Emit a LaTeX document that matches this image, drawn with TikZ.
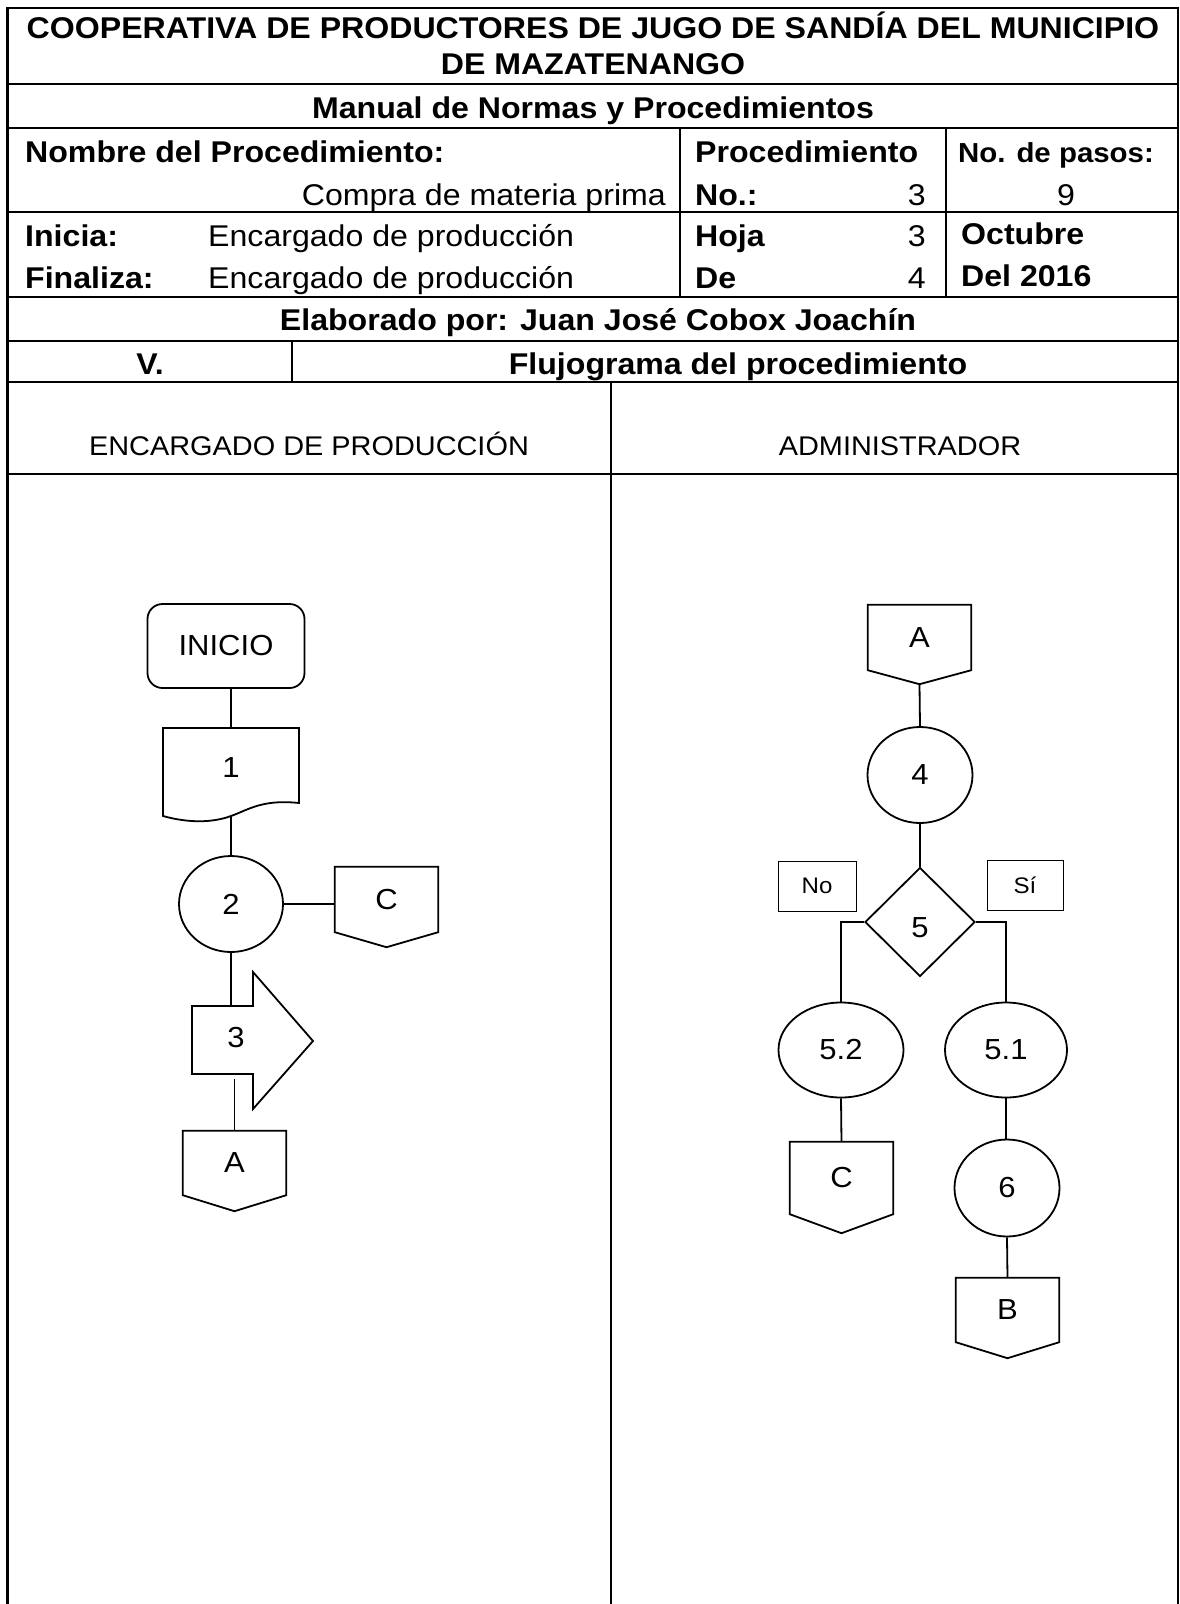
\documentclass[tikz,border=0pt]{standalone}
\usepackage{fontspec}
\setmainfont[FakeStretch=1.07]{Liberation Sans}
\usetikzlibrary{shapes.geometric,calc}
\tikzset{
  tline/.style={line width=2.4pt},
  fshape/.style={line width=1.8pt},
  conn/.style={line width=1.8pt},
  hb/.style={font=\fontsize{30}{36}\selectfont\bfseries, inner sep=0pt},
  hbs/.style={font=\fontsize{27.5}{33}\selectfont\bfseries, inner sep=0pt},
  hr/.style={font=\fontsize{30}{36}\selectfont, inner sep=0pt},
  lanetxt/.style={font=\fontsize{27}{32}\selectfont, inner sep=0pt},
  fc/.style={font=\fontsize{29}{34}\selectfont},
  lbl/.style={draw, line width=1pt, minimum width=78pt, minimum height=50pt, font=\fontsize{22.5}{27}\selectfont, inner sep=0pt},
}
\newcommand\offpg[6]{% name, cx, top, height, tip depth, label
  \node[fc, minimum width=103pt, minimum height=#4pt, inner sep=0pt] (#1) at (#2,#3+#4/2) {#6};
  \draw[fshape] (#1.north west) -- (#1.north east) -- (#1.south east) -- ($(#1.south)+(0,#5)$) coordinate (#1-tip) -- (#1.south west) -- cycle;
}
\begin{document}
\begin{tikzpicture}[x=1pt,y=-1pt]
\useasboundingbox (0,0) rectangle (1180,1604);
% ---------- table ----------
\draw[tline] (7.5,1604) -- (7.5,8) -- (1178,8) -- (1178,1604);
\foreach \yy in {84,128,212,297,341,382,474}
  \draw[tline] (7.5,\yy) -- (1178,\yy);
\draw[tline] (680,128) -- (680,297);
\draw[tline] (946,128) -- (946,297);
\draw[tline] (292,341) -- (292,382);
\draw[line width=1.8pt] (611,382) -- (611,1604);
% ---------- table texts ----------
\node[hb, anchor=base] (t1) at (593,38) {COOPERATIVA DE PRODUCTORES DE JUGO DE SANDÍA DEL MUNICIPIO};
\node[hb, anchor=base] (t2) at (593,74) {DE MAZATENANGO};
\node[hb, anchor=base] (t3) at (593,118) {Manual de Normas y Procedimientos};
\node[hb, anchor=base west] (t4) at (25,162) {Nombre del Procedimiento:};
\node[hr, anchor=base east] (t5) at (666,205) {Compra de materia prima};
\node[hb, anchor=base west] (t6) at (695,162) {Procedimiento};
\node[hb, anchor=base west] (t7) at (695,205) {No.:};
\node[hr, anchor=base east] (t8) at (926,205) {3};
\node[hbs, anchor=base west] (t9) at (958,162) {No. de pasos:};
\node[hr, anchor=base] (t10) at (1066,205) {9};
\node[hb, anchor=base west] (t11) at (25,246) {Inicia:};
\node[hr, anchor=base west] (t12) at (208,246) {Encargado de producción};
\node[hb, anchor=base west] (t13) at (25,288) {Finaliza:};
\node[hr, anchor=base west] (t14) at (208,288) {Encargado de producción};
\node[hb, anchor=base west] (t15) at (695,246) {Hoja};
\node[hr, anchor=base east] (t16) at (926,246) {3};
\node[hb, anchor=base west] (t17) at (695,288) {De};
\node[hr, anchor=base east] (t18) at (926,288) {4};
\node[hb, anchor=base west] (t19) at (961,244) {Octubre};
\node[hb, anchor=base west] (t20) at (961,286) {Del 2016};
\node[hb, anchor=base] (t21) at (598,330) {Elaborado por: Juan José Cobox Joachín};
\node[hb, anchor=base] (t22) at (150,374) {V.};
\node[hb, anchor=base] (t23) at (738,374) {Flujograma del procedimiento};
\node[lanetxt, anchor=base] (l1) at (309,455) {ENCARGADO DE PRODUCCIÓN};
\node[lanetxt, anchor=base] (l2) at (900,455) {ADMINISTRADOR};
% ---------- left lane ----------
\node[fc, draw, fshape, rounded corners=15pt, minimum width=157pt, minimum height=84pt] (ini) at (226,646) {INICIO};
\node[fc, minimum width=136pt, minimum height=80pt, inner sep=0pt] (d1) at (231,768) {1};
\draw[fshape] (163,728) -- (299,728) -- (299,803) .. controls (262,799) and (248,810) .. (231,816) .. controls (212,823) and (188,823) .. (163,816) -- cycle;
\coordinate (d1b) at (231,816);
\draw[conn] (ini.south -| d1.north) -- (231,728);
\node[fc, draw, fshape, ellipse, minimum width=104pt, minimum height=96pt, inner sep=0pt] (p2) at (231,904) {2};
\draw[conn] (d1b) -- (p2.north);
\offpg{c1}{386.5}{867}{65}{15}{C}
\draw[conn] (p2.east) -- (p2.east -| c1.west);
\node[fc, inner sep=0pt] (s3) at (236,1038) {3};
\draw[fshape] (192,1006) -- (253,1006) -- (253,972) -- (313,1041) -- (253,1109) -- (253,1074) -- (192,1074) -- cycle;
\coordinate (s3t) at (233,1006);
\coordinate (s3b) at (233,1079);
\draw[conn] (p2.south) -- (p2.south |- s3t);
\offpg{a1}{234.5}{1131}{64}{16}{A}
\draw[conn] (a1.north |- s3b) -- (a1.north);
% ---------- right lane ----------
\offpg{a2}{919.5}{605}{65}{14}{A}
\node[fc, draw, fshape, ellipse, minimum width=105pt, minimum height=96pt, inner sep=0pt] (p4) at (920,775) {4};
\draw[conn] (a2-tip) -- (p4.north);
\node[fc, draw, fshape, diamond, minimum width=110pt, minimum height=109pt, inner sep=0pt, text height=31pt, text depth=0pt] (d5) at (920,922) {5};
\draw[conn] (p4.south) -- (d5.north);
\node[lbl] (no) at (817,886) {No};
\node[lbl, minimum width=76pt] (si) at (1025,885) {Sí};
\node[fc, draw, fshape, ellipse, minimum width=125pt, minimum height=95pt, inner sep=0pt] (e52) at (841,1050) {5.2};
\node[fc, draw, fshape, ellipse, minimum width=122pt, minimum height=95pt, inner sep=0pt] (e51) at (1006,1050) {5.1};
\draw[conn] (d5.west) -| (e52.north);
\draw[conn] (d5.east) -| (e51.north);
\offpg{c2}{841.5}{1142}{72}{19}{C}
\draw[conn] (e52.south) -- (c2.north);
\node[fc, draw, fshape, ellipse, minimum width=105pt, minimum height=97pt, inner sep=0pt] (p6) at (1007,1188) {6};
\draw[conn] (e51.south) -- (e51.south |- p6.north);
\offpg{b1}{1007.5}{1278}{64}{16}{B}
\draw[conn] (p6.south) -- (b1.north);
\end{tikzpicture}
\end{document}
